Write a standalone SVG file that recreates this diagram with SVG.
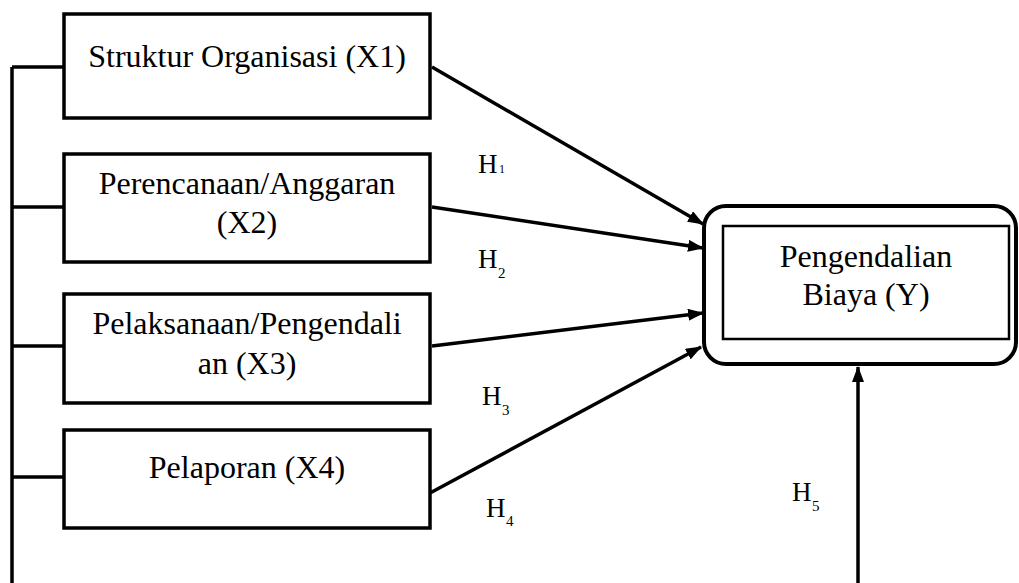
<svg xmlns="http://www.w3.org/2000/svg" width="1019" height="583" viewBox="0 0 1019 583">
<style>
.box{fill:#fff;stroke:#000;stroke-width:3.5}
.t{font-family:"Liberation Serif","Times New Roman",serif;font-size:32px;fill:#000;text-anchor:middle}
.h{font-family:"Liberation Serif","Times New Roman",serif;font-size:27px;fill:#000}
.s{font-family:"Liberation Serif","Times New Roman",serif;font-size:15px;fill:#000}
.ln{fill:none;stroke:#000;stroke-width:3.5}
.ar{fill:none;stroke:#000;stroke-width:3.5;marker-end:url(#ah)}
</style>
<defs>
<marker id="ah" viewBox="0 0 16 12" refX="15" refY="6" markerWidth="16" markerHeight="12" markerUnits="userSpaceOnUse" orient="auto">
<path d="M0,0 L16,6 L0,12 Z" fill="#000"/>
</marker>
</defs>
<rect width="1019" height="583" fill="#fff"/>
<g id="connectors">
<path class="ln" d="M12,67 V583 M12,67 H64 M12,207 H64 M12,346 H64 M12,477 H64"/>
<line class="ar" x1="432" y1="67" x2="703" y2="224"/>
<line class="ar" x1="432" y1="207" x2="703" y2="248"/>
<line class="ar" x1="432" y1="346" x2="703" y2="313"/>
<line class="ar" x1="430" y1="493" x2="701" y2="347"/>
<line class="ar" x1="858" y1="583" x2="858" y2="367"/>
</g>
<g id="x1">
<rect class="box" x="64" y="14" width="366" height="104"/>
<text class="t" x="247" y="67">Struktur Organisasi (X1)</text>
</g>
<g id="x2">
<rect class="box" x="64" y="154" width="366" height="108"/>
<text class="t" x="247" y="194">Perencanaan/Anggaran</text>
<text class="t" x="247" y="233">(X2)</text>
</g>
<g id="x3">
<rect class="box" x="64" y="294" width="366" height="109"/>
<text class="t" x="247" y="334">Pelaksanaan/Pengendali</text>
<text class="t" x="247" y="374">an (X3)</text>
</g>
<g id="x4">
<rect class="box" x="64" y="430" width="366" height="98"/>
<text class="t" x="247" y="478">Pelaporan (X4)</text>
</g>
<g id="y">
<rect x="704" y="206" width="312" height="158" rx="22" ry="22" fill="#fff" stroke="#000" stroke-width="4"/>
<rect x="723" y="226" width="286" height="113" fill="none" stroke="#000" stroke-width="2.5"/>
<text class="t" x="866" y="267">Pengendalian</text>
<text class="t" x="866" y="305">Biaya (Y)</text>
</g>
<g id="labels">
<text class="h" x="478" y="173">H</text><text class="s" x="499" y="173" style="font-size:12px">1</text>
<text class="h" x="478" y="268">H</text><text class="s" x="498" y="278">2</text>
<text class="h" x="482" y="405">H</text><text class="s" x="502" y="415">3</text>
<text class="h" x="486" y="517">H</text><text class="s" x="506" y="526">4</text>
<text class="h" x="792" y="501">H</text><text class="s" x="812" y="511">5</text>
</g>
</svg>
